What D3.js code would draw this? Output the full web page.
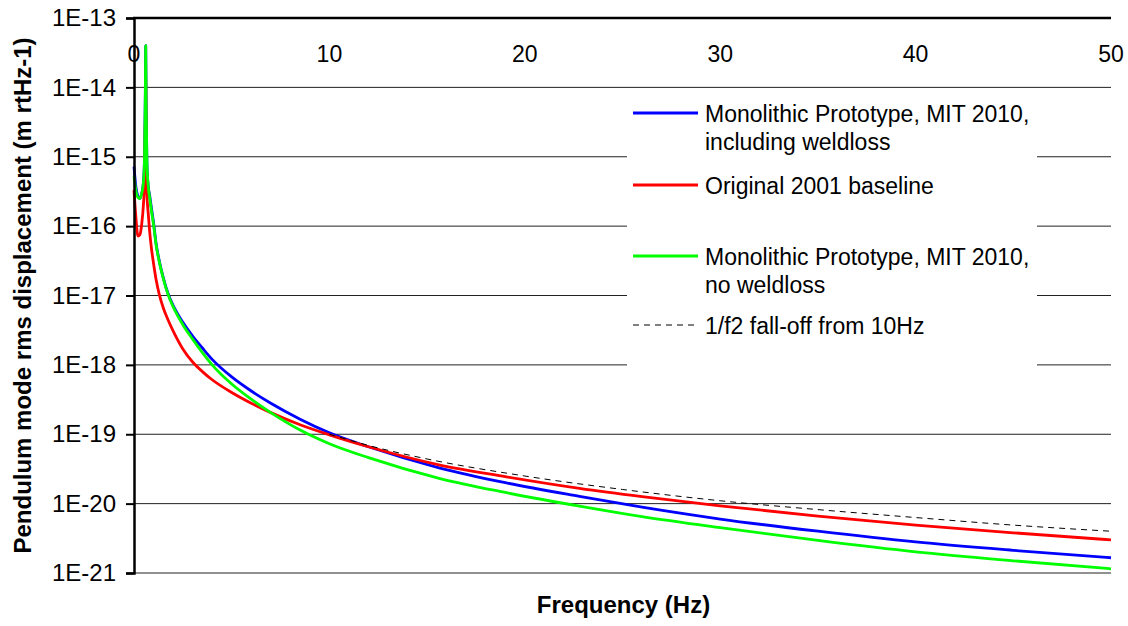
<!DOCTYPE html>
<html>
<head>
<meta charset="utf-8">
<script src="https://cdn.jsdelivr.net/npm/d3@7"></script>
<style>
  body { margin: 0; background: #fff; }
  svg { display: block; font-family: "Liberation Sans", Arial, sans-serif; }
</style>
</head>
<body>
<div id="chart"></div>
<script>
// frequencies (Hz) shared by the three model curves
const freqs = [0, 0.1, 0.2, 0.3, 0.4, 0.48, 0.54, 0.58, 0.6, 0.62, 0.66, 0.73, 0.8, 0.9, 1.0, 1.13,
  1.3, 1.5, 1.75, 2, 2.5, 3, 3.5, 4, 5, 6, 7, 8.5, 10, 12, 15.66, 19, 22.8, 26, 30, 35, 40, 45, 50];

const monoWeld = [7.2e-16, 3.6e-16, 2.7e-16, 2.5e-16, 3.0e-16, 4.2e-16, 1.0e-15, 8e-15, 4.0e-14, 6e-15,
  8e-16, 3.7e-16, 2.8e-16, 1.75e-16, 1.12e-16, 5.6e-17, 3.1e-17, 1.8e-17, 1.05e-17, 7.2e-18, 4.1e-18,
  2.6e-18, 1.75e-18, 1.2e-18, 6.7e-19, 4.2e-19, 2.8e-19, 1.65e-19, 1.05e-19, 6.6e-20, 3.25e-20, 2.0e-20,
  1.27e-20, 8.9e-21, 6.0e-21, 4.0e-21, 2.8e-21, 2.12e-21, 1.66e-21];

const baseline2001 = [3.3e-16, 1.3e-16, 7.2e-17, 7.5e-17, 1.1e-16, 2.0e-16, 4.5e-16, 3e-15, 1.3e-14, 2e-15,
  3e-16, 1.5e-16, 8.5e-17, 4.6e-17, 2.9e-17, 1.7e-17, 1.02e-17, 6.6e-18, 4.4e-18, 3.1e-18, 1.7e-18,
  1.1e-18, 8.0e-19, 6.1e-19, 4.0e-19, 2.8e-19, 2.05e-19, 1.37e-19, 9.8e-20, 6.6e-20, 3.6e-20, 2.45e-20,
  1.66e-20, 1.26e-20, 9.3e-21, 6.6e-21, 4.9e-21, 3.8e-21, 3.0e-21];

const monoNoWeld = [5.2e-16, 3.2e-16, 2.6e-16, 2.5e-16, 3.0e-16, 4.2e-16, 1.0e-15, 8e-15, 4.0e-14, 6e-15,
  9e-16, 3.7e-16, 2.6e-16, 1.6e-16, 1.05e-16, 5.4e-17, 3.0e-17, 1.75e-17, 1.02e-17, 6.9e-18, 3.8e-18,
  2.35e-18, 1.5e-18, 1.0e-18, 5.3e-19, 3.2e-19, 2.05e-19, 1.15e-19, 7.3e-20, 4.6e-20, 2.3e-20, 1.45e-20,
  9.2e-21, 6.5e-21, 4.5e-21, 2.95e-21, 2.02e-21, 1.5e-21, 1.15e-21];

// 1/f2 reference line
const falloffFreqs = [10, 12, 15, 20, 25, 30, 35, 40, 45, 50];
const falloffVals = [1.0e-19, 6.9e-20, 4.4e-20, 2.5e-20, 1.6e-20, 1.1e-20, 8.2e-21, 6.3e-21, 4.9e-21, 4.0e-21];

const xTicks = [0, 10, 20, 30, 40, 50];
const yTicks = [1e-13, 1e-14, 1e-15, 1e-16, 1e-17, 1e-18, 1e-19, 1e-20, 1e-21];
const yTickLabels = ["1E-13", "1E-14", "1E-15", "1E-16", "1E-17", "1E-18", "1E-19", "1E-20", "1E-21"];

const seriesNames = [
  ["Monolithic Prototype, MIT 2010,", "including weldloss"],
  ["Original 2001 baseline"],
  ["Monolithic Prototype, MIT 2010,", "no weldloss"],
  ["1/f2 fall-off from 10Hz"]
];

const width = 1128, height = 626;
const plot = { left: 134, right: 1111, top: 18, bottom: 573 };

const svg = d3.select("#chart").append("svg")
  .attr("width", width)
  .attr("height", height);

svg.append("rect").attr("width", width).attr("height", height).attr("fill", "#fff");

const x = d3.scaleLinear().domain([0, 50]).range([plot.left, plot.right]);
const y = d3.scaleLog().domain([1e-21, 1e-13]).range([plot.bottom, plot.top]);

// gridlines
svg.selectAll(".grid")
  .data(yTicks.slice(1))
  .join("line")
  .attr("class", "grid")
  .attr("x1", plot.left)
  .attr("x2", plot.right)
  .attr("y1", d => y(d))
  .attr("y2", d => y(d))
  .attr("stroke", "#222")
  .attr("stroke-width", 1);

// legend background hides gridlines behind it
svg.append("rect")
  .attr("x", 627).attr("y", 96)
  .attr("width", 410).attr("height", 276)
  .attr("fill", "#fff");

const line = d3.line()
  .x(d => x(d[0]))
  .y(d => y(d[1]))
  .curve(d3.curveMonotoneX);

const series = [
  { vals: monoWeld, color: "#0000ff" },
  { vals: baseline2001, color: "#ff0000" },
  { vals: monoNoWeld, color: "#00ff00" }
];

series.forEach(s => {
  svg.append("path")
    .datum(freqs.map((f, i) => [f, s.vals[i]]))
    .attr("d", line)
    .attr("fill", "none")
    .attr("stroke", s.color)
    .attr("stroke-width", 2.8)
    .attr("stroke-linejoin", "round");
});

svg.append("path")
  .datum(falloffFreqs.map((f, i) => [f, falloffVals[i]]))
  .attr("d", line)
  .attr("fill", "none")
  .attr("stroke", "#000")
  .attr("stroke-width", 1)
  .attr("stroke-dasharray", "6,5");

// y axis
const yAxis = svg.append("g")
  .attr("transform", `translate(${plot.left},0)`)
  .call(d3.axisLeft(y).tickValues(yTicks).tickFormat((d, i) => yTickLabels[i]).tickSize(8).tickPadding(10));
yAxis.select(".domain").attr("stroke", "#000").attr("stroke-width", 2.5);
yAxis.selectAll(".tick line").attr("stroke", "#000").attr("stroke-width", 2);
yAxis.selectAll("text")
  .attr("font-family", "Liberation Sans, Arial, sans-serif")
  .attr("font-size", 24)
  .attr("fill", "#000");

// top horizontal axis line and labels
svg.append("line")
  .attr("x1", plot.left - 1).attr("x2", plot.right)
  .attr("y1", plot.top).attr("y2", plot.top)
  .attr("stroke", "#000").attr("stroke-width", 2.5);

svg.selectAll(".xlab")
  .data(xTicks)
  .join("text")
  .attr("class", "xlab")
  .attr("x", d => x(d))
  .attr("y", 62)
  .attr("text-anchor", "middle")
  .attr("font-size", 23)
  .attr("fill", "#000")
  .text(d => d);

// axis titles
svg.append("text")
  .attr("x", (plot.left + plot.right) / 2 + 1)
  .attr("y", 613)
  .attr("text-anchor", "middle")
  .attr("font-size", 24)
  .attr("font-weight", "bold")
  .text("Frequency (Hz)");

svg.append("text")
  .attr("transform", `translate(31,${(plot.top + plot.bottom) / 2}) rotate(-90)`)
  .attr("text-anchor", "middle")
  .attr("font-size", 24)
  .attr("font-weight", "bold")
  .text("Pendulum mode rms displacement (m rtHz-1)");

// legend
const legendRows = [113, 185, 256, 325];
const legendColors = ["#0000ff", "#ff0000", "#00ff00", "#000"];

const legend = svg.append("g");
seriesNames.forEach((lines, i) => {
  const ly = legendRows[i];
  legend.append("line")
    .attr("x1", 633).attr("x2", 698)
    .attr("y1", ly).attr("y2", ly)
    .attr("stroke", legendColors[i])
    .attr("stroke-width", i === 3 ? 1 : 2.8)
    .attr("stroke-dasharray", i === 3 ? "6,5" : null);
  lines.forEach((t, j) => {
    legend.append("text")
      .attr("x", 705)
      .attr("y", ly + 8.5 + j * 28)
      .attr("font-size", 23)
      .attr("fill", "#000")
      .text(t);
  });
});
</script>
</body>
</html>
